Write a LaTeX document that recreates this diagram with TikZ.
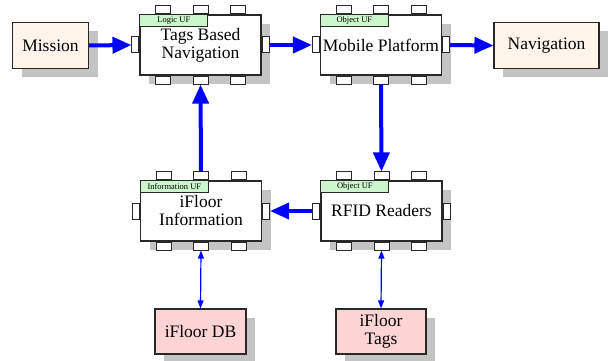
\documentclass[tikz,border=0pt]{standalone}
\usepackage{fontspec}
\setmainfont{Liberation Serif}
\usetikzlibrary{shadows,arrows.meta,positioning}
\definecolor{shadowgray}{RGB}{196,196,196}
\definecolor{cream}{RGB}{255,245,234}
\definecolor{pinkfill}{RGB}{255,212,212}
\definecolor{greenfill}{RGB}{204,246,204}
\definecolor{edgecol}{RGB}{40,40,40}
\definecolor{arrowblue}{RGB}{0,0,255}
\tikzset{
  shadowed/.style={drop shadow={shadow xshift=9pt,shadow yshift=-9pt,fill=shadowgray,opacity=1}},
  plainbox/.style={draw=edgecol,line width=1.1pt,shadowed,align=center,inner sep=0pt,
    font=\fontsize{17.5}{18}\selectfont},
  ufbox/.style={plainbox,fill=white,minimum width=121pt,minimum height=60pt},
  uflabel/.style={draw=edgecol,line width=0.8pt,fill=greenfill,inner sep=0pt,
    minimum width=68pt,minimum height=12pt,font=\fontsize{8.5}{9}\selectfont,anchor=north west},
  hport/.style={draw=edgecol,line width=1pt,fill=white,inner sep=0pt,minimum width=15pt,minimum height=8pt},
  vport/.style={draw=edgecol,line width=1pt,fill=white,inner sep=0pt,minimum width=7pt,minimum height=16pt},
  thick flow/.style={draw=arrowblue,line width=4pt,-{Triangle[length=19pt,width=16pt]}},
  thin flow/.style={draw=arrowblue,line width=1.2pt,{Triangle[length=8pt,width=6pt]}-{Triangle[length=8pt,width=6pt]}}
}
\newcommand{\ufblock}[5]{%
  \node[ufbox] (#1) at (#2,#3) {#5};
  \node[uflabel] (#1-lab) at (#1.north west) {#4};
  \node[hport,anchor=south] (#1-t1) at ([xshift=-37.5pt]#1.north) {};
  \node[hport,anchor=south] (#1-t2) at (#1.north) {};
  \node[hport,anchor=south] (#1-t3) at ([xshift=37.5pt]#1.north) {};
  \node[hport,anchor=north] (#1-b1) at ([xshift=-37.5pt]#1.south) {};
  \node[hport,anchor=north] (#1-b2) at (#1.south) {};
  \node[hport,anchor=north] (#1-b3) at ([xshift=37.5pt]#1.south) {};
  \node[vport,anchor=east] (#1-l) at (#1.west) {};
  \node[vport,anchor=west] (#1-r) at (#1.east) {};
}
\begin{document}
\begin{tikzpicture}[x=1pt,y=-1pt]
\useasboundingbox (0,0) rectangle (608,361);
% simple boxes
\node[plainbox,fill=cream,minimum width=76pt,minimum height=46pt] (mission) at (50.5,45.5) {Mission};
\node[plainbox,fill=cream,minimum width=105pt,minimum height=46pt] (nav) at (546.5,45.5) {Navigation};
\node[plainbox,fill=pinkfill,minimum width=91pt,minimum height=45pt] (db) at (200.5,331.5) {iFloor DB};
\node[plainbox,fill=pinkfill,minimum width=90pt,minimum height=45pt] (tags) at (381,331.5) {iFloor\\Tags};
% UF blocks
\ufblock{tbn}{200.5}{45}{Logic UF}{Tags Based\\Navigation}
\ufblock{mp}{381}{45}{Object UF}{Mobile Platform}
\ufblock{info}{201}{211}{Information UF}{iFloor\\Information}
\ufblock{rfid}{381.5}{211}{Object UF}{RFID Readers}
% connectors
\draw[thick flow] (mission.east) -- (tbn-l.west);
\draw[thick flow] (tbn-r.east) -- (mp-l.west);
\draw[thick flow] (mp-r.east) -- (nav.west);
\draw[thick flow] (mp-b2.south) -- (rfid-t2.north);
\draw[thick flow] (rfid-l.west) -- (info-r.east);
\draw[thick flow] (info-t2.north) -- (tbn-b2.south);
\draw[thin flow] (info-b2.south) -- (db.north);
\draw[thin flow] (rfid-b2.south) -- (tags.north);
\end{tikzpicture}
\end{document}
